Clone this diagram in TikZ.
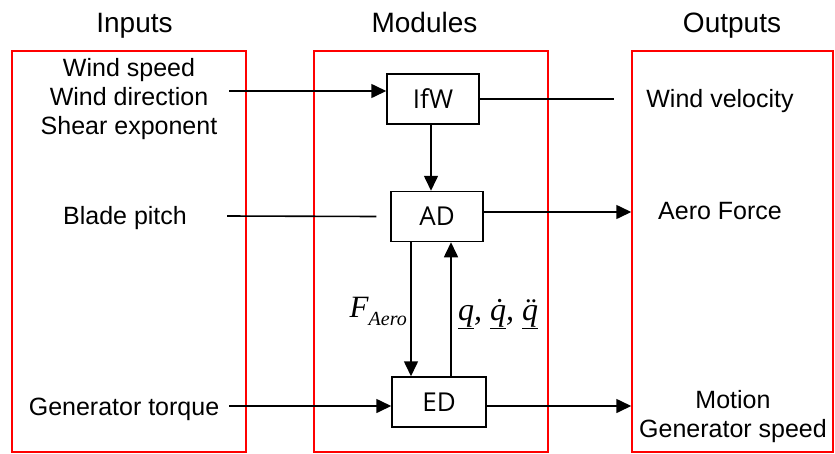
\documentclass[tikz,border=0pt]{standalone}
\usepackage{fontspec}
\setmainfont{Liberation Sans}
\newfontfamily\boxfont{Open Sans}
\newfontfamily\serfont{Liberation Serif}
\usetikzlibrary{arrows.meta, positioning}
\definecolor{panelred}{RGB}{255,0,0}

\begin{document}
\begin{tikzpicture}[
    x=1pt, y=-1pt,
    panel/.style={rectangle, draw=panelred, line width=1.5pt,
        minimum width=#1, minimum height=401pt, inner sep=0pt},
    module/.style={rectangle, draw, line width=1.5pt, minimum width=92pt,
        minimum height=50pt, inner sep=0pt, font=\boxfont\fontsize{26}{26}\selectfont},
    head/.style={font=\fontsize{28}{32}\selectfont, anchor=base},
    label/.style={font=\fontsize{25}{29}\selectfont, align=center, anchor=base},
    arr/.style={-{Triangle[length=15pt, width=14pt]}, line width=1.6pt},
    plain/.style={line width=1.6pt},
]
\useasboundingbox (0,0) rectangle (835,453);
\foreach \n/\x/\w in {inbox/129/234, modbox/431/234, outbox/732.5/201} {
    \node[panel=\w pt] (\n) at (\x,251.5) {};
}
\node[head] (hin) at (134.5,32) {Inputs};
\node[head] (hmod) at (424.5,32) {Modules};
\node[head] (hout) at (732,32) {Outputs};
% modules
\node[module] (ifw) at (433,99) {IfW};
\node[module] (ad) at (437,216.5) {AD};
\node[module, minimum width=94pt] (ed) at (439,402) {ED};
% inputs and outputs
\node[label] (winds) at (129,134) {Wind speed\\Wind direction\\Shear exponent};
\node[label] (pitch) at (125,224) {Blade pitch};
\node[label] (torque) at (124,415) {Generator torque};
\node[label] (wvel) at (720,107) {Wind velocity};
\node[label] (aero) at (720,219) {Aero Force};
\node[label] (motion) at (733,437) {Motion\\Generator speed};
\coordinate (wsin) at (229,91);
\coordinate (bpin) at (227,216);
\coordinate (gtin) at (229,406);
\coordinate (wvout) at (614,99);
\draw[arr] (wsin) -- (wsin -| ifw.west);
\draw[plain] (ifw.east) -- (wvout);
\draw[arr] ([xshift=-2pt]ifw.south) -- ([xshift=-2pt]ifw.south |- ad.north);
\draw[plain] (bpin) -- ([xshift=-14pt]ad.west);
\draw[arr] ([yshift=4.5pt]ad.east) -- ([yshift=4.5pt]ad.east -| outbox.west);
\draw[arr] ([xshift=-26pt]ad.south) -- ([xshift=-26pt]ad.south |- ed.north);
\draw[arr] ([xshift=12pt]ed.north) -- ([xshift=12pt]ed.north |- ad.south);
\draw[arr] (gtin) -- (gtin -| ed.west);
\draw[arr] ([yshift=-4pt]ed.east) -- ([yshift=-4pt]ed.east -| outbox.west);
% signal labels
\node[anchor=base east, inner sep=0pt, font=\serfont\itshape\fontsize{31}{31}\selectfont] (faero)
    at (407,317) {F\raisebox{-8pt}{\fontsize{20}{20}\selectfont Aero}};
\node[anchor=base west, inner sep=0pt, font=\serfont\itshape\fontsize{32}{32}\selectfont] (qvec)
    at (458,320) {\underline{q}, \underline{\.{q}}, \underline{\"{q}}};
\end{tikzpicture}
\end{document}
